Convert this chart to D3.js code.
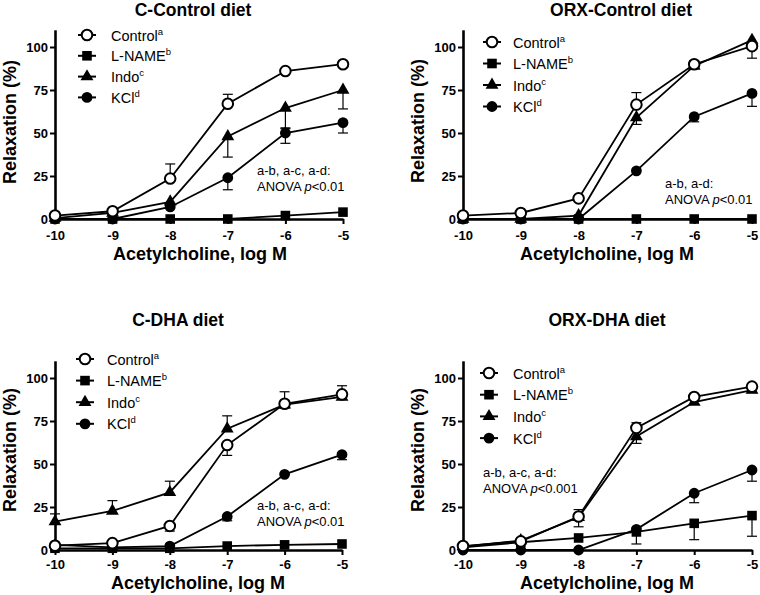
<!DOCTYPE html>
<html><head><meta charset="utf-8">
<script src="https://cdn.jsdelivr.net/npm/d3@7"></script>
<style>body{margin:0;background:#fff}svg{display:block}</style>
</head><body>
<svg id="c" width="760" height="595"></svg>
<script>
// ---------- data ----------
const logDose = [-10, -9, -8, -7, -6, -5];
const seriesNames = ["Control", "L-NAME", "Indo", "KCl"];
const seriesSup = ["a", "b", "c", "d"];
const xTicks = [-10, -9, -8, -7, -6, -5];
const yTicks = [0, 25, 50, 75, 100];
const panelTitles = ["C-Control diet", "ORX-Control diet", "C-DHA diet", "ORX-DHA diet"];
const annotationLine1 = ["a-b, a-c, a-d:", "a-b, a-d:", "a-b, a-c, a-d:", "a-b, a-c, a-d:"];
const annotationP = ["<0.01", "<0.01", "<0.01", "<0.001"];

// C-Control diet: rows = Control, L-NAME, Indo, KCl
const cControlMean = [
  [2, 4.5, 23.5, 67, 86, 90],
  [0, 0, 0, 0, 2, 4],
  [0.5, 3.5, 10, 48, 64.5, 75],
  [0, 0, 7, 24, 50, 56]
];
const cControlErrUp = [
  [0, 0, 8.5, 5.5, 0, 0],
  [0, 0, 0, 0, 0, 0],
  [0, 0, 0, 0, 0, 0],
  [0, 0, 0, 0, 3, 0]
];
const cControlErrDown = [
  [0, 0, 0, 0, 0, 0],
  [0, 0, 0, 0, 0, 0],
  [0, 0, 0, 12, 12, 11],
  [0, 0, 0, 7, 6, 6]
];

// ORX-Control diet
const orxControlMean = [
  [2, 3.5, 12, 66.5, 90, 100.5],
  [0, 0, 0, 0, 0, 0],
  [0, 0, 2, 59, 89, 104],
  [0, 0, 0, 28, 59.5, 73]
];
const orxControlErrUp = [
  [0, 0, 0, 7, 2, 0],
  [0, 0, 0, 0, 0, 0],
  [0, 0, 0, 0, 0, 0],
  [0, 0, 0, 0, 0, 0]
];
const orxControlErrDown = [
  [0, 0, 0, 0, 0, 7],
  [0, 0, 0, 0, 0, 0],
  [0, 0, 0, 4, 0, 0],
  [0, 0, 0, 0, 3, 7.5]
];

// C-DHA diet
const cDhaMean = [
  [2.5, 4, 14, 61, 85, 90.5],
  [1, 1, 1, 2.3, 3, 3.5],
  [16.5, 22.7, 33.5, 70.5, 84.5, 89],
  [3, 1.5, 2.3, 19.5, 44, 55.5]
];
const cDhaErrUp = [
  [0, 0, 0, 0, 7, 5],
  [0, 0, 0, 0, 0, 0],
  [4.5, 6, 6.5, 7.5, 0, 0],
  [0, 0, 0, 0, 0, 0]
];
const cDhaErrDown = [
  [0, 0, 3, 6, 0, 0],
  [0, 0, 0, 0, 0, 0],
  [0, 0, 0, 0, 2, 1.5],
  [0, 0, 0, 2.5, 0, 3]
];

// ORX-DHA diet
const orxDhaMean = [
  [2.3, 5, 19.5, 71, 89, 95],
  [1.5, 4.5, 7, 10.5, 15.5, 20],
  [2, 5.5, 19, 66, 86, 93],
  [0, 0, 0, 12, 33, 46.5]
];
const orxDhaErrUp = [
  [0, 0, 4, 3, 0, 0],
  [0, 0, 0, 0, 0, 0],
  [0, 0, 0, 0, 0, 0],
  [0, 0, 0, 0, 0, 0]
];
const orxDhaErrDown = [
  [0, 0, 0, 0, 0, 0],
  [0, 0, 0, 7, 9.5, 12],
  [0, 0, 5.5, 4, 0, 1.5],
  [0, 0, 0, 0, 5.5, 6.5]
];

const panelMeans = [cControlMean, orxControlMean, cDhaMean, orxDhaMean];
const panelErrUp = [cControlErrUp, orxControlErrUp, cDhaErrUp, orxDhaErrUp];
const panelErrDown = [cControlErrDown, orxControlErrDown, cDhaErrDown, orxDhaErrDown];

// ---------- layout ----------
const layout = [
  {x0: 55, x1: 343, yZero: 219, titleX: 193, titleY: 16, ylabX: 16, ylabY: 122, xlabX: 200, xlabY: 260, tickPad: 7,
   legX: 87, legY0: 35, legDy: 20.8, legTextX: 111, annX: 257, annY: 175},
  {x0: 463, x1: 752, yZero: 219, titleX: 621, titleY: 16, ylabX: 424, ylabY: 121, xlabX: 607, xlabY: 260, tickPad: 7,
   legX: 492, legY0: 42, legDy: 21.5, legTextX: 513, annX: 665, annY: 188},
  {x0: 55, x1: 342, yZero: 550, titleX: 178, titleY: 326, ylabX: 16, ylabY: 450, xlabX: 198, xlabY: 589, tickPad: 5,
   legX: 85, legY0: 359, legDy: 21.6, legTextX: 107, annX: 257, annY: 510},
  {x0: 463, x1: 752, yZero: 550, titleX: 607, titleY: 326, ylabX: 424, ylabY: 450, xlabX: 607, xlabY: 589, tickPad: 5,
   legX: 489, legY0: 373, legDy: 21.7, legTextX: 513, annX: 483, annY: 477}
];
const pxPer100 = 172;
const FONT = "'Liberation Sans', Arial, Helvetica, sans-serif";

const svg = d3.select("#c").style("font-family", FONT);
svg.append("rect").attr("width", 760).attr("height", 595).attr("fill", "#fff");

const symbolDefs = [
  {type: d3.symbolCircle, size: 88, fill: "#fff", sw: 2},
  {type: d3.symbolSquare, size: 92, fill: "#000", sw: 0},
  {type: d3.symbolTriangle, size: 72, fill: "#000", sw: 0},
  {type: d3.symbolCircle, size: 92, fill: "#000", sw: 0}
];

function drawMarker(g, k, cx, cy) {
  const s = symbolDefs[k];
  g.append("path")
    .attr("d", d3.symbol().type(s.type).size(s.size)())
    .attr("transform", `translate(${cx},${cy})`)
    .attr("fill", s.fill)
    .attr("stroke", "#000")
    .attr("stroke-width", s.sw);
}

layout.forEach((L, p) => {
  const g = svg.append("g");
  const x = d3.scaleLinear().domain([-10, -5]).range([L.x0, L.x1]);
  const y = d3.scaleLinear().domain([0, 110]).range([L.yZero, L.yZero - 1.1 * pxPer100]);

  // axes
  const xa = g.append("g").attr("transform", `translate(0,${L.yZero})`)
    .call(d3.axisBottom(x).tickValues(xTicks).tickFormat(d => String(d)).tickSize(5).tickSizeOuter(0).tickPadding(L.tickPad));
  const ya = g.append("g").attr("transform", `translate(${L.x0},0)`)
    .call(d3.axisLeft(y).tickValues(yTicks).tickFormat(d => String(d)).tickSize(5).tickSizeOuter(0).tickPadding(2));
  [xa, ya].forEach(a => {
    a.select(".domain").attr("stroke", "#000").attr("stroke-width", 2.6);
    a.selectAll(".tick line").attr("stroke", "#000").attr("stroke-width", 2);
    a.selectAll(".tick text").attr("fill", "#000").style("font-family", FONT)
      .style("font-size", "13px").style("font-weight", "bold");
  });

  // titles and axis labels
  g.append("text").attr("x", L.titleX).attr("y", L.titleY).attr("text-anchor", "middle")
    .style("font-size", "17.5px").style("font-weight", "bold").text(panelTitles[p]);
  g.append("text").attr("x", L.xlabX).attr("y", L.xlabY).attr("text-anchor", "middle")
    .style("font-size", "18px").style("font-weight", "bold").text("Acetylcholine, log M");
  g.append("text").attr("transform", `translate(${L.ylabX},${L.ylabY}) rotate(-90)`).attr("text-anchor", "middle")
    .style("font-size", "18px").style("font-weight", "bold").text("Relaxation (%)");

  const means = panelMeans[p], eu = panelErrUp[p], ed = panelErrDown[p];
  const line = d3.line().x((d, i) => x(logDose[i])).y(d => y(d));

  // error bars
  means.forEach((ser, k) => {
    ser.forEach((v, i) => {
      const cx = x(logDose[i]);
      [[eu[k][i], 1], [ed[k][i], -1]].forEach(([e, dir]) => {
        if (e > 0) {
          const yEnd = y(v + dir * e);
          g.append("line").attr("x1", cx).attr("x2", cx).attr("y1", y(v)).attr("y2", yEnd)
            .attr("stroke", "#000").attr("stroke-width", 1.2);
          g.append("line").attr("x1", cx - 5).attr("x2", cx + 5).attr("y1", yEnd).attr("y2", yEnd)
            .attr("stroke", "#000").attr("stroke-width", 1.2);
        }
      });
    });
  });

  // series lines and markers (Control drawn last)
  [3, 2, 1, 0].forEach(k => {
    g.append("path").attr("d", line(means[k])).attr("fill", "none")
      .attr("stroke", "#000").attr("stroke-width", 1.8);
  });
  [3, 2, 1, 0].forEach(k => {
    means[k].forEach((v, i) => drawMarker(g, k, x(logDose[i]), y(v)));
  });

  // legend
  seriesNames.forEach((name, k) => {
    const ly = L.legY0 + k * L.legDy;
    g.append("line").attr("x1", L.legX - 9).attr("x2", L.legX + 9).attr("y1", ly).attr("y2", ly)
      .attr("stroke", "#000").attr("stroke-width", 2);
    drawMarker(g, k, L.legX, ly);
    const t = g.append("text").attr("x", L.legTextX).attr("y", ly + 5.5).style("font-size", "14.5px");
    t.append("tspan").text(name);
    t.append("tspan").attr("dy", -6).style("font-size", "9.5px").text(seriesSup[k]);
  });

  // annotation
  g.append("text").attr("x", L.annX).attr("y", L.annY).style("font-size", "13px").text(annotationLine1[p]);
  const a2 = g.append("text").attr("x", L.annX).attr("y", L.annY + 15.5).style("font-size", "13px");
  a2.append("tspan").text("ANOVA ");
  a2.append("tspan").style("font-style", "italic").text("p");
  a2.append("tspan").text(annotationP[p]);
});
</script>
</body></html>
